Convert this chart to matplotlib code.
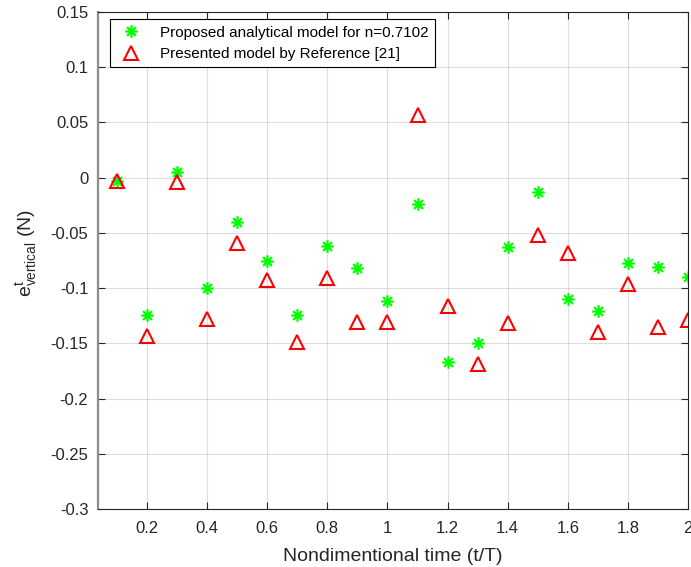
import matplotlib
matplotlib.use('Agg')
import matplotlib.pyplot as plt
from matplotlib.path import Path

plt.rcParams['font.family'] = ['Liberation Sans', 'DejaVu Sans']
plt.rcParams['mathtext.fontset'] = 'custom'
plt.rcParams['mathtext.rm'] = 'Liberation Sans'
plt.rcParams['mathtext.it'] = 'Liberation Sans'

# nondimensional time
t = [0.1, 0.2, 0.3, 0.4, 0.5, 0.6, 0.7, 0.8, 0.9, 1.0,
     1.1, 1.2, 1.3, 1.4, 1.5, 1.6, 1.7, 1.8, 1.9, 2.0]

# proposed analytical model (n=0.7102)
proposed = [-0.003, -0.124, 0.005, -0.100, -0.040, -0.075, -0.124, -0.062, -0.082, -0.112,
            -0.024, -0.167, -0.150, -0.063, -0.013, -0.110, -0.121, -0.077, -0.081, -0.090]

# presented model by reference [21]
reference = [-0.003, -0.143, -0.004, -0.128, -0.059, -0.093, -0.149, -0.091, -0.131, -0.131,
             0.057, -0.116, -0.169, -0.132, -0.052, -0.068, -0.140, -0.096, -0.135, -0.129]

dark = '#262626'

# matlab style asterisk (plus + cross)
d = 0.707
asterisk = Path([(-1, 0), (1, 0), (0, -1), (0, 1), (-d, -d), (d, d), (-d, d), (d, -d)],
                [Path.MOVETO, Path.LINETO] * 4)

fig = plt.figure(figsize=(6.91, 5.67), dpi=100)
ax = fig.add_axes([0.1418, 0.1023, 0.854, 0.8765])

ax.plot(t, proposed, linestyle='none', marker=asterisk, color=(0, 1, 0),
        markersize=9, markeredgewidth=1.6, label='Proposed analytical model for n=0.7102')
ax.plot(t, reference, linestyle='none', marker='^', markerfacecolor='none',
        markeredgecolor='red', markersize=10, markeredgewidth=1.5,
        label='Presented model by Reference [21]')

ax.set_xlim(0.037, 2.0)
ax.set_ylim(-0.3, 0.15)
ax.set_xticks([0.2, 0.4, 0.6, 0.8, 1.0, 1.2, 1.4, 1.6, 1.8, 2.0])
ax.set_xticklabels(['0.2', '0.4', '0.6', '0.8', '1', '1.2', '1.4', '1.6', '1.8', '2'])
ax.set_yticks([-0.3, -0.25, -0.2, -0.15, -0.1, -0.05, 0, 0.05, 0.1, 0.15])
ax.set_yticklabels(['-0.3', '-0.25', '-0.2', '-0.15', '-0.1', '-0.05', '0', '0.05', '0.1', '0.15'])

ax.grid(True, color='#262626', alpha=0.15, linewidth=0.8)
ax.set_axisbelow(True)
ax.tick_params(direction='in', top=True, right=True, length=5, width=0.8,
               colors=dark, labelsize=12, labelcolor=dark, pad=7)
ax.tick_params(axis='x', pad=9)
for s in ax.spines.values():
    s.set_color(dark)
    s.set_linewidth(0.8)
ax.spines['left'].set_color('#8c8c8c')
ax.spines['left'].set_linewidth(1.6)

ax.set_xlabel('Nondimentional time (t/T)', fontsize=14, color=dark, labelpad=8)
ax.set_ylabel(r'$\mathregular{e^{t}_{vertical}}$ (N)', fontsize=14, color=dark)
ax.yaxis.set_label_coords(-0.099, 0.515)

leg = ax.legend(loc='upper left', bbox_to_anchor=(0.02, 0.985), fontsize=11,
                frameon=True, fancybox=False, edgecolor='black', framealpha=1,
                borderpad=0.4, handletextpad=0.9, borderaxespad=0.0, labelspacing=0.5)
leg.get_frame().set_linewidth(0.8)

fig.savefig('out.png', dpi=100)
